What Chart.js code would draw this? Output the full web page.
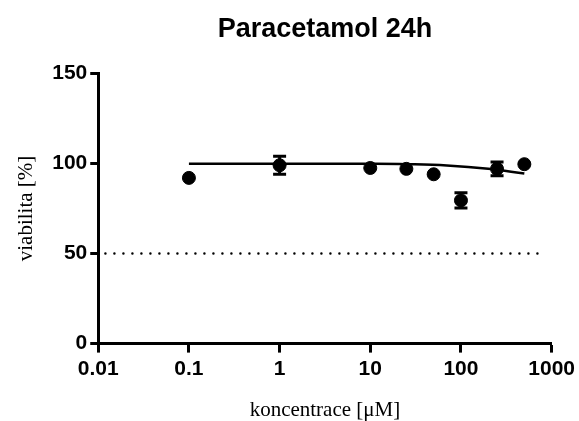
<!DOCTYPE html>
<html>
<head>
<meta charset="utf-8">
<script src="https://cdn.jsdelivr.net/npm/chart.js@4"></script>
<style>
  html, body { margin: 0; padding: 0; background: #fff; }
  #wrap { width: 579px; height: 421px; }
</style>
</head>
<body>
<div id="wrap"><canvas id="Grafica" width="579" height="421"></canvas></div>
<script>
// measured points (mean +- error)
const koncentrace = [0.1, 1, 10, 25, 50, 100, 250, 500];
const viabilita = [92, 99, 97.5, 97, 94, 79.5, 97, 99.6];
const chyba = [0, 5, 0, 0, 0, 4.2, 3.8, 0];

// fitted curve
const fitX = [0.1, 1, 10, 25, 70, 200, 500];
const fitY = [99.9, 99.9, 99.8, 99.6, 98.9, 97.1, 94.4];

// 50 % reference line
const refX = [0.012, 820];
const refY = [50, 50];

const xTicks = [0.01, 0.1, 1, 10, 100, 1000];
const yTicks = [0, 50, 100, 150];

function toXY(xs, ys){
    return xs.map((x, i) => ({x: x, y: ys[i]}));
}

// error bars drawn through the scales
const errorBars = {
    id: 'errorBars',
    afterDatasetsDraw(chart){
        let ctx = chart.ctx;
        let xs = chart.scales.x;
        let ys = chart.scales.y;
        ctx.save();
        ctx.strokeStyle = '#000';
        ctx.lineWidth = 3;
        koncentrace.forEach((c, i) => {
            if (!chyba[i]) return;
            let px = xs.getPixelForValue(c);
            let top = ys.getPixelForValue(viabilita[i] + chyba[i]);
            let bot = ys.getPixelForValue(viabilita[i] - chyba[i]);
            ctx.beginPath();
            ctx.moveTo(px, top); ctx.lineTo(px, bot);
            ctx.moveTo(px - 6.5, top); ctx.lineTo(px + 6.5, top);
            ctx.moveTo(px - 6.5, bot); ctx.lineTo(px + 6.5, bot);
            ctx.stroke();
        });
        ctx.restore();
    }
};

let ctx = document.getElementById('Grafica').getContext('2d');
new Chart(ctx, {
    type: 'scatter',
    data: {
        datasets: [
            {
                label: 'ref',
                data: toXY(refX, refY),
                showLine: true,
                borderColor: '#000',
                borderWidth: 2.5,
                borderDash: [0, 9],
                borderCapStyle: 'round',
                pointRadius: 0
            },
            {
                label: 'fit',
                data: toXY(fitX, fitY),
                showLine: true,
                borderColor: '#000',
                borderWidth: 2.5,
                tension: 0.4,
                pointRadius: 0
            },
            {
                label: 'viabilita',
                data: toXY(koncentrace, viabilita),
                backgroundColor: '#000',
                borderColor: '#000',
                pointRadius: 6.5,
                pointHoverRadius: 6.5
            }
        ]
    },
    options: {
        responsive: false,
        animation: false,
        layout: { padding: { left: 14, right: -1, top: 13, bottom: -2 } },
        plugins: {
            legend: { display: false },
            tooltip: { enabled: false },
            title: {
                display: true,
                text: 'Paracetamol 24h',
                fullSize: false,
                color: '#000',
                font: { family: 'Liberation Sans, Arial, sans-serif', size: 27, weight: 'bold' },
                padding: { top: 0, bottom: 28 }
            }
        },
        scales: {
            x: {
                type: 'logarithmic',
                min: 0.01,
                max: 1000,
                afterBuildTicks: (scale) => { scale.ticks = xTicks.map(v => ({value: v})); },
                ticks: {
                    color: '#000',
                    autoSkip: false,
                    maxRotation: 0,
                    padding: 4,
                    font: { family: 'Liberation Sans, Arial, sans-serif', size: 21, weight: 'bold' },
                    callback: (v) => String(v)
                },
                grid: { drawOnChartArea: false, drawTicks: true, tickLength: 9, tickWidth: 3, color: '#000' },
                border: { display: true, color: '#000', width: 3 },
                title: {
                    display: true,
                    text: 'koncentrace [μM]',
                    color: '#000',
                    font: { family: 'Liberation Serif, Times New Roman, serif', size: 21 },
                    padding: { top: 12, bottom: 0 }
                }
            },
            y: {
                min: 0,
                max: 150,
                afterBuildTicks: (scale) => { scale.ticks = yTicks.map(v => ({value: v})); },
                ticks: {
                    color: '#000',
                    padding: 3,
                    font: { family: 'Liberation Sans, Arial, sans-serif', size: 21, weight: 'bold' }
                },
                grid: { drawOnChartArea: false, drawTicks: true, tickLength: 8, tickWidth: 3, color: '#000' },
                border: { display: true, color: '#000', width: 3 },
                title: {
                    display: true,
                    text: 'viabilita [%]',
                    color: '#000',
                    font: { family: 'Liberation Serif, Times New Roman, serif', size: 21 },
                    padding: { top: 0, bottom: 10 }
                }
            }
        }
    },
    plugins: [errorBars]
});
</script>
</body>
</html>
